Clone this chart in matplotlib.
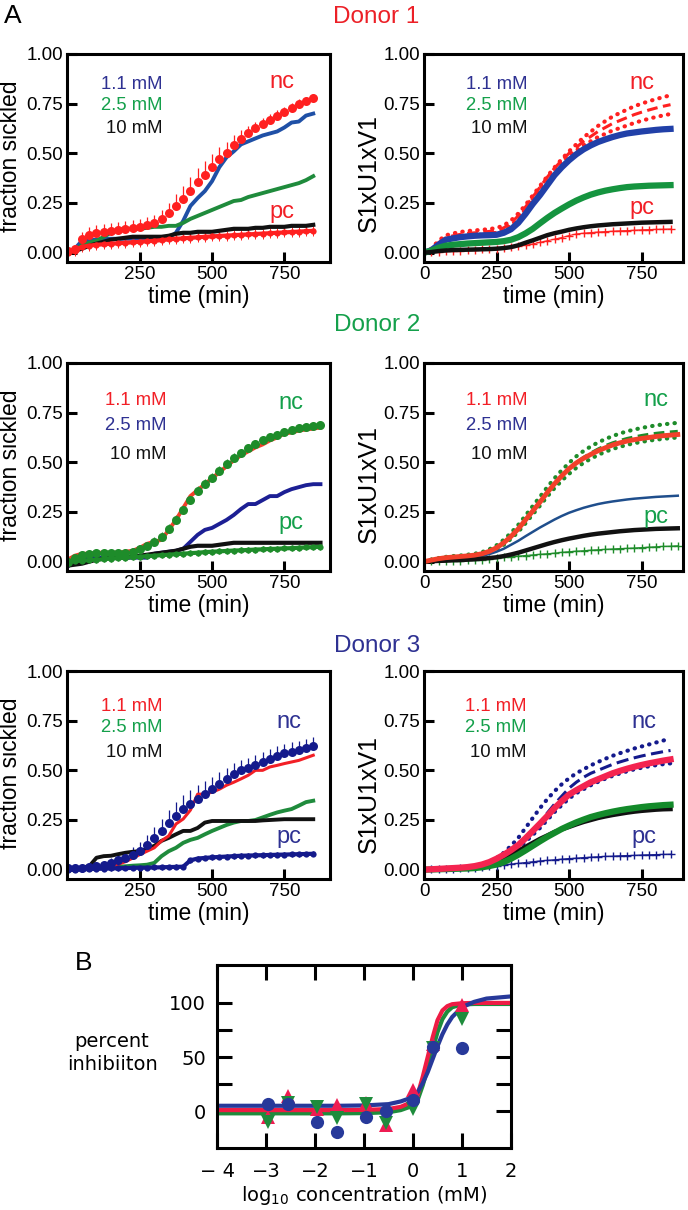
import numpy as np
import matplotlib.pyplot as plt

plt.rcParams['font.family'] = ['Liberation Sans', 'DejaVu Sans']

# ---- colours ----
RED = '#f21f26'
RED2 = '#f2402a'
RED3 = '#f42450'
GREEN = '#14a04b'
GREEN_D = '#1f8b3c'
BLUE = '#1f50a6'
BLUE_T = '#2e3192'
NAVY = '#141a8c'
STEEL = '#1f4e8c'
BLACK = '#111111'

conc_labels = ['1.1 mM', '2.5 mM', '10 mM']

# ---- Donor 1, measured (time step 25 min) ----
d1_time = np.arange(0, 851, 25)
d1_nc = [0.01, 0.02, 0.07, 0.09, 0.10, 0.105, 0.11, 0.115, 0.12, 0.125, 0.13, 0.14, 0.15, 0.17, 0.20, 0.235,
         0.27, 0.31, 0.355, 0.39, 0.43, 0.47, 0.50, 0.54, 0.57, 0.60, 0.625, 0.65, 0.67, 0.69, 0.71, 0.73,
         0.75, 0.765, 0.78]
d1_nc_err = [0.01, 0.02, 0.035, 0.04, 0.04, 0.04, 0.04, 0.04, 0.04, 0.04, 0.04, 0.04, 0.04, 0.045, 0.05, 0.06,
             0.065, 0.07, 0.07, 0.07, 0.065, 0.06, 0.055, 0.05, 0.045, 0.04, 0.035, 0.03, 0.03, 0.03, 0.025,
             0.025, 0.025, 0.02, 0.02]
d1_pc = [0.0, 0.01, 0.03, 0.035, 0.04, 0.042, 0.045, 0.047, 0.05, 0.052, 0.055, 0.057, 0.06, 0.063, 0.067, 0.07,
         0.072, 0.075, 0.077, 0.08, 0.082, 0.084, 0.086, 0.088, 0.09, 0.092, 0.094, 0.096, 0.098, 0.10, 0.102,
         0.104, 0.106, 0.108, 0.11]
d1_pc_err = 0.025
d1_c11 = [0.0, 0.02, 0.06, 0.065, 0.065, 0.07, 0.07, 0.07, 0.07, 0.07, 0.07, 0.07, 0.07, 0.07, 0.075, 0.10,
          0.16, 0.235, 0.275, 0.31, 0.36, 0.43, 0.48, 0.51, 0.545, 0.56, 0.575, 0.59, 0.60, 0.61, 0.63, 0.655,
          0.66, 0.69, 0.70]
d1_c25 = [0.0, 0.01, 0.04, 0.05, 0.06, 0.08, 0.10, 0.115, 0.12, 0.12, 0.12, 0.125, 0.13, 0.13, 0.135, 0.135,
          0.15, 0.17, 0.185, 0.20, 0.215, 0.23, 0.245, 0.26, 0.265, 0.28, 0.29, 0.30, 0.31, 0.32, 0.33, 0.34,
          0.35, 0.365, 0.385]
d1_c10 = [0.0, 0.01, 0.02, 0.035, 0.045, 0.055, 0.065, 0.07, 0.075, 0.08, 0.08, 0.08, 0.08, 0.08, 0.085, 0.095,
          0.10, 0.10, 0.105, 0.105, 0.105, 0.11, 0.115, 0.12, 0.12, 0.12, 0.125, 0.125, 0.13, 0.13, 0.13, 0.135,
          0.135, 0.135, 0.14]

# ---- Donor 1, model ----
d1_fit_hi = [0.0, 0.02, 0.06, 0.087, 0.097, 0.104, 0.109, 0.112, 0.115, 0.119, 0.124, 0.137, 0.162, 0.197, 0.24,
             0.288, 0.336, 0.384, 0.429, 0.471, 0.51, 0.545, 0.58, 0.609, 0.638, 0.662, 0.685, 0.703, 0.72,
             0.737, 0.75, 0.762, 0.773, 0.783, 0.792]
d1_fit_mid = [0.0, 0.015, 0.05, 0.075, 0.085, 0.092, 0.097, 0.10, 0.103, 0.107, 0.112, 0.125, 0.15, 0.185, 0.23,
              0.28, 0.33, 0.38, 0.425, 0.465, 0.50, 0.53, 0.56, 0.585, 0.61, 0.63, 0.65, 0.665, 0.68, 0.695,
              0.707, 0.718, 0.728, 0.737, 0.745]
d1_fit_lo = [0.0, 0.01, 0.04, 0.063, 0.073, 0.08, 0.085, 0.088, 0.091, 0.095, 0.10, 0.113, 0.138, 0.173, 0.22,
             0.272, 0.324, 0.376, 0.421, 0.459, 0.49, 0.515, 0.54, 0.561, 0.582, 0.598, 0.615, 0.627, 0.64,
             0.653, 0.664, 0.674, 0.683, 0.691, 0.698]
d1_fit_c11 = [0.0, 0.012, 0.04, 0.065, 0.072, 0.078, 0.082, 0.085, 0.087, 0.088, 0.09, 0.10, 0.118, 0.15, 0.195,
              0.245, 0.29, 0.34, 0.39, 0.43, 0.465, 0.495, 0.52, 0.54, 0.557, 0.57, 0.582, 0.592, 0.60, 0.605,
              0.61, 0.614, 0.618, 0.621, 0.623]
d1_fit_c25 = [0.0, 0.01, 0.025, 0.035, 0.04, 0.043, 0.046, 0.048, 0.05, 0.052, 0.054, 0.058, 0.065, 0.078, 0.097,
              0.12, 0.148, 0.175, 0.20, 0.222, 0.243, 0.262, 0.278, 0.292, 0.303, 0.312, 0.319, 0.325, 0.33,
              0.333, 0.335, 0.337, 0.338, 0.339, 0.34]
d1_fit_c10 = [0.0, 0.003, 0.008, 0.011, 0.013, 0.014, 0.015, 0.016, 0.017, 0.018, 0.02, 0.023, 0.028, 0.037,
              0.05, 0.062, 0.075, 0.088, 0.098, 0.106, 0.115, 0.122, 0.128, 0.133, 0.137, 0.14, 0.143, 0.145,
              0.147, 0.149, 0.151, 0.152, 0.153, 0.154, 0.155]
d1_fit_pc = [0.0, 0.002, 0.004, 0.006, 0.008, 0.01, 0.012, 0.014, 0.016, 0.018, 0.02, 0.023, 0.027, 0.032,
             0.037, 0.044, 0.052, 0.06, 0.068, 0.076, 0.086, 0.094, 0.098, 0.101, 0.104, 0.106, 0.108, 0.11,
             0.111, 0.113, 0.115, 0.116, 0.117, 0.118, 0.119]

# ---- Donor 2, measured ----
d2_time = np.arange(0, 876, 25)
d2_nc = [0.0, 0.02, 0.035, 0.04, 0.042, 0.044, 0.045, 0.045, 0.045, 0.05, 0.065, 0.08, 0.10, 0.125, 0.165, 0.21,
         0.26, 0.31, 0.355, 0.39, 0.42, 0.455, 0.49, 0.52, 0.545, 0.57, 0.59, 0.61, 0.625, 0.64, 0.655, 0.665,
         0.675, 0.68, 0.685, 0.69]
d2_nc_err = [0.01, 0.01, 0.015, 0.015, 0.015, 0.015, 0.015, 0.015, 0.015, 0.02, 0.02, 0.02, 0.025, 0.025, 0.025,
             0.025, 0.025, 0.025, 0.025, 0.025, 0.025, 0.025, 0.025, 0.025, 0.02, 0.02, 0.02, 0.02, 0.02, 0.02,
             0.02, 0.02, 0.015, 0.015, 0.015, 0.015]
d2_pc = [0.0, 0.003, 0.005, 0.008, 0.01, 0.013, 0.015, 0.018, 0.02, 0.023, 0.025, 0.028, 0.03, 0.033, 0.035,
         0.038, 0.04, 0.043, 0.045, 0.048, 0.05, 0.052, 0.054, 0.056, 0.057, 0.059, 0.061, 0.062, 0.064, 0.065,
         0.067, 0.068, 0.07, 0.072, 0.073, 0.075]
d2_pc_err = 0.015
d2_c11 = [0.01, 0.03, 0.04, 0.04, 0.045, 0.045, 0.045, 0.045, 0.05, 0.055, 0.07, 0.09, 0.10, 0.11, 0.16, 0.21,
          0.27, 0.33, 0.36, 0.39, 0.42, 0.45, 0.48, 0.51, 0.535, 0.555, 0.575, 0.59, 0.61, 0.625, 0.645, 0.65,
          0.66, 0.665, 0.67, 0.675]
d2_c25 = [-0.025, 0.0, 0.015, 0.018, 0.02, 0.02, 0.02, 0.02, 0.02, 0.02, 0.02, 0.02, 0.04, 0.045, 0.05, 0.055,
          0.065, 0.10, 0.135, 0.16, 0.17, 0.19, 0.21, 0.235, 0.265, 0.29, 0.29, 0.31, 0.33, 0.33, 0.35, 0.365,
          0.375, 0.385, 0.39, 0.39]
d2_c10 = [-0.02, -0.015, -0.01, 0.0, 0.01, 0.015, 0.02, 0.02, 0.02, 0.025, 0.03, 0.035, 0.04, 0.045, 0.05, 0.055,
          0.065, 0.075, 0.08, 0.08, 0.08, 0.085, 0.09, 0.095, 0.095, 0.095, 0.095, 0.095, 0.095, 0.095, 0.095,
          0.095, 0.095, 0.095, 0.095, 0.095]

# ---- Donor 2, model ----
d2_fit_hi = [0.0, 0.01, 0.018, 0.024, 0.028, 0.031, 0.035, 0.04, 0.048, 0.062, 0.082, 0.11, 0.145, 0.185, 0.232,
             0.28, 0.327, 0.375, 0.42, 0.46, 0.497, 0.53, 0.557, 0.58, 0.6, 0.617, 0.632, 0.645, 0.656, 0.665,
             0.673, 0.68, 0.686, 0.691, 0.695, 0.699]
d2_fit_mid = [0.0, 0.008, 0.015, 0.02, 0.023, 0.026, 0.029, 0.033, 0.04, 0.052, 0.07, 0.095, 0.127, 0.165, 0.21,
              0.255, 0.30, 0.348, 0.392, 0.432, 0.468, 0.50, 0.525, 0.547, 0.567, 0.584, 0.598, 0.61, 0.62,
              0.628, 0.635, 0.641, 0.646, 0.65, 0.653, 0.656]
d2_fit_lo = [0.0, 0.006, 0.012, 0.016, 0.019, 0.022, 0.025, 0.028, 0.034, 0.045, 0.062, 0.085, 0.115, 0.15, 0.193,
             0.238, 0.282, 0.328, 0.37, 0.408, 0.442, 0.472, 0.497, 0.518, 0.537, 0.553, 0.567, 0.578, 0.588,
             0.596, 0.603, 0.609, 0.614, 0.618, 0.622, 0.625]
d2_fit_c11 = [0.0, 0.008, 0.015, 0.02, 0.023, 0.026, 0.029, 0.033, 0.04, 0.052, 0.07, 0.095, 0.127, 0.165, 0.21,
              0.255, 0.30, 0.348, 0.392, 0.432, 0.468, 0.497, 0.52, 0.54, 0.558, 0.573, 0.587, 0.598, 0.607,
              0.614, 0.62, 0.625, 0.63, 0.634, 0.637, 0.64]
d2_fit_c25 = [0.0, 0.005, 0.01, 0.012, 0.015, 0.017, 0.02, 0.025, 0.03, 0.038, 0.05, 0.065, 0.085, 0.105, 0.128,
              0.15, 0.172, 0.192, 0.212, 0.23, 0.246, 0.259, 0.271, 0.281, 0.29, 0.297, 0.303, 0.308, 0.313,
              0.317, 0.32, 0.323, 0.326, 0.328, 0.33, 0.332]
d2_fit_c10 = [0.0, 0.002, 0.004, 0.005, 0.007, 0.008, 0.01, 0.012, 0.015, 0.018, 0.022, 0.028, 0.036, 0.045,
              0.056, 0.067, 0.078, 0.089, 0.099, 0.108, 0.116, 0.123, 0.13, 0.136, 0.141, 0.145, 0.149, 0.153,
              0.156, 0.159, 0.161, 0.163, 0.165, 0.166, 0.167, 0.168]
d2_fit_pc = [0.0, 0.001, 0.002, 0.003, 0.004, 0.005, 0.006, 0.008, 0.01, 0.014, 0.018, 0.021, 0.025, 0.028,
             0.031, 0.034, 0.037, 0.04, 0.043, 0.047, 0.05, 0.053, 0.055, 0.058, 0.06, 0.062, 0.064, 0.066,
             0.067, 0.069, 0.071, 0.073, 0.075, 0.077, 0.078, 0.08]

# ---- Donor 3, measured ----
d3_time = np.arange(0, 851, 25)
d3_nc = [0.01, 0.01, 0.01, 0.013, 0.017, 0.025, 0.035, 0.047, 0.06, 0.075, 0.093, 0.125, 0.16, 0.197, 0.235,
         0.27, 0.305, 0.33, 0.356, 0.38, 0.405, 0.43, 0.457, 0.48, 0.50, 0.512, 0.525, 0.54, 0.555, 0.57, 0.585,
         0.593, 0.60, 0.61, 0.62]
d3_nc_err = [0.01, 0.01, 0.01, 0.01, 0.015, 0.02, 0.025, 0.03, 0.035, 0.04, 0.045, 0.05, 0.055, 0.06, 0.065,
             0.07, 0.07, 0.07, 0.07, 0.065, 0.06, 0.06, 0.055, 0.055, 0.05, 0.05, 0.05, 0.05, 0.05, 0.05, 0.05,
             0.05, 0.05, 0.05, 0.05]
d3_pc = [0.0, 0.0, 0.002, 0.003, 0.004, 0.005, 0.006, 0.007, 0.008, 0.009, 0.01, 0.01, 0.011, 0.012, 0.013,
         0.014, 0.015, 0.047, 0.056, 0.059, 0.062, 0.064, 0.066, 0.068, 0.07, 0.071, 0.072, 0.073, 0.074, 0.075,
         0.076, 0.077, 0.078, 0.079, 0.08]
d3_pc_err = 0.012
d3_c11 = [0.0, 0.003, 0.005, 0.008, 0.01, 0.013, 0.017, 0.027, 0.04, 0.058, 0.076, 0.093, 0.11, 0.145, 0.17,
          0.23, 0.255, 0.30, 0.38, 0.38, 0.39, 0.405, 0.425, 0.44, 0.457, 0.475, 0.50, 0.50, 0.517, 0.525,
          0.534, 0.542, 0.55, 0.563, 0.576]
d3_c25 = [0.0, 0.002, 0.004, 0.006, 0.008, 0.01, 0.012, 0.015, 0.017, 0.02, 0.022, 0.025, 0.034, 0.068, 0.093,
          0.11, 0.135, 0.15, 0.16, 0.178, 0.195, 0.21, 0.225, 0.237, 0.245, 0.245, 0.25, 0.263, 0.276, 0.288,
          0.297, 0.305, 0.322, 0.34, 0.347]
d3_c10 = [0.0, 0.005, 0.01, 0.017, 0.06, 0.068, 0.07, 0.078, 0.085, 0.09, 0.093, 0.105, 0.12, 0.145, 0.16,
          0.178, 0.195, 0.195, 0.21, 0.237, 0.245, 0.245, 0.245, 0.245, 0.245, 0.245, 0.245, 0.248, 0.25,
          0.252, 0.254, 0.254, 0.254, 0.254, 0.254]

# ---- Donor 3, model ----
d3_fit_hi = [0.0, 0.002, 0.004, 0.006, 0.008, 0.01, 0.013, 0.018, 0.025, 0.04, 0.058, 0.085, 0.12, 0.16, 0.21,
             0.26, 0.31, 0.355, 0.395, 0.43, 0.46, 0.485, 0.505, 0.525, 0.542, 0.558, 0.573, 0.586, 0.598,
             0.61, 0.62, 0.63, 0.64, 0.65, 0.66]
d3_fit_mid = [0.0, 0.002, 0.004, 0.006, 0.008, 0.01, 0.013, 0.018, 0.026, 0.038, 0.055, 0.075, 0.098, 0.124,
              0.158, 0.195, 0.235, 0.285, 0.33, 0.37, 0.41, 0.44, 0.465, 0.485, 0.50, 0.515, 0.53, 0.542, 0.553,
              0.563, 0.572, 0.58, 0.587, 0.594, 0.60]
d3_fit_lo = [0.0, 0.002, 0.004, 0.006, 0.008, 0.01, 0.012, 0.016, 0.022, 0.032, 0.046, 0.064, 0.085, 0.11, 0.14,
             0.175, 0.21, 0.25, 0.29, 0.325, 0.358, 0.385, 0.405, 0.425, 0.442, 0.458, 0.472, 0.484, 0.495,
             0.505, 0.513, 0.52, 0.526, 0.531, 0.535]
d3_fit_c11 = [0.0, 0.002, 0.004, 0.006, 0.008, 0.01, 0.013, 0.018, 0.026, 0.038, 0.055, 0.075, 0.098, 0.124,
              0.158, 0.195, 0.232, 0.27, 0.31, 0.345, 0.378, 0.40, 0.42, 0.44, 0.455, 0.47, 0.485, 0.497, 0.508,
              0.518, 0.527, 0.535, 0.542, 0.549, 0.555]
d3_fit_c25 = [0.0, 0.001, 0.002, 0.003, 0.004, 0.005, 0.006, 0.008, 0.012, 0.018, 0.026, 0.038, 0.055, 0.075,
              0.097, 0.12, 0.143, 0.165, 0.185, 0.205, 0.222, 0.238, 0.252, 0.265, 0.275, 0.284, 0.292, 0.299,
              0.305, 0.31, 0.315, 0.319, 0.322, 0.325, 0.327]
d3_fit_c10 = [0.0, 0.001, 0.002, 0.003, 0.005, 0.007, 0.01, 0.015, 0.02, 0.03, 0.045, 0.06, 0.078, 0.095, 0.115,
              0.135, 0.155, 0.172, 0.19, 0.203, 0.215, 0.228, 0.24, 0.25, 0.26, 0.268, 0.275, 0.281, 0.287,
              0.292, 0.296, 0.299, 0.302, 0.304, 0.305]
d3_fit_pc = [0.0, 0.001, 0.002, 0.003, 0.004, 0.006, 0.008, 0.01, 0.013, 0.016, 0.02, 0.024, 0.028, 0.032,
             0.036, 0.04, 0.044, 0.047, 0.05, 0.053, 0.056, 0.058, 0.061, 0.063, 0.065, 0.067, 0.068, 0.07,
             0.071, 0.072, 0.074, 0.075, 0.076, 0.077, 0.078]

# ---- panel B ----
b_x = [-2.95, -2.55, -1.95, -1.55, -0.95, -0.55, 0.0, 0.4, 1.0]
b_red = [-5, 14, 2, 6, 8, -13, 20, 62, 98]
b_green = [-10, 8, 4, -6, 7, -11, 2, 58, 85]
b_blue = [7, 7, -10, -19, -5, 0, 10, 59, 58]
b_fit_x = [-4, -1.5, -1, -0.5, -0.25, 0, 0.1, 0.2, 0.3, 0.4, 0.5, 0.6, 0.7, 0.8, 1.0, 1.25, 1.5, 2]
b_fit_red = [1, 1, 1.2, 2, 4, 9, 16, 32, 50, 68, 84, 93, 97, 98.8, 99.7, 100, 100, 100]
b_fit_green = [-2, -2, -1.8, -1, 1, 5, 11, 24, 40, 57, 73, 85, 92, 96, 98.5, 99, 99, 99]
b_fit_blue = [5, 5, 5.3, 6.5, 9, 13, 18, 26, 36, 48, 60, 71, 80, 87, 96, 101, 104, 106]
b_xticklabels = ['\u2212 4', '\u22123', '\u22122', '\u22121', '0', '1', '2']

W, H = 688, 1210
fig = plt.figure(figsize=(W / 100, H / 100), dpi=100)


def px_axes(x0, y0, x1, y1):
    return fig.add_axes([x0 / W, 1 - y1 / H, (x1 - x0) / W, (y1 - y0) / H])


def style_a(ax, xlim, xticks, ylabel, ylab_y):
    ax.set_xlim(*xlim)
    ax.set_ylim(-0.047, 1.0)
    ax.set_xticks(xticks)
    ax.set_yticks([0, 0.25, 0.5, 0.75, 1.0])
    ax.set_yticklabels(['0.00', '0.25', '0.50', '0.75', '1.00'])
    ax.tick_params(direction='in', length=7, width=2.2, labelsize=13.5, pad=3)
    for s in ax.spines.values():
        s.set_linewidth(2.2)
    ax.set_xlabel('time (min)', fontsize=16.5, va='center')
    ax.xaxis.set_label_coords(0.5, -0.168)
    ax.set_ylabel(ylabel, fontsize=16.5 if ylabel.startswith('f') else 18, va='center')
    ax.yaxis.set_label_coords(-0.215, ylab_y)


def labels_a(ax, x_conc, ys, colors, x_ncpc, y_nc, y_pc, nc_color):
    for lab, y, c in zip(conc_labels, ys, colors):
        ax.text(x_conc, y, lab, color=c, fontsize=13.3, ha='right', va='center', transform=ax.transAxes)
    ax.text(x_ncpc, y_nc, 'nc', color=nc_color, fontsize=17, ha='center', va='center', transform=ax.transAxes)
    ax.text(x_ncpc, y_pc, 'pc', color=nc_color, fontsize=17, ha='center', va='center', transform=ax.transAxes)


def data_panel(ax, t, nc, nc_err, pc, pc_err, lines, nc_color):
    ax.errorbar(t, nc, yerr=[np.zeros(len(nc)), nc_err], fmt='o', color=nc_color, ms=6.5, mew=0,
                elinewidth=0.9, capsize=3, capthick=0.9)
    ax.errorbar(t, pc, yerr=pc_err, fmt='-o', color=nc_color, ms=4.5, mew=0, lw=3,
                elinewidth=0.7, capsize=2.5, capthick=0.7)
    for y, c, lw in lines:
        ax.plot(t, y, color=c, lw=lw)


def fit_panel(ax, t, hi, mid, lo, pc, lines, nc_color, dash):
    ax.plot(t, pc, color=nc_color, lw=0.8, marker='+', ms=6, mew=1.0)
    for y in (hi, lo):
        ax.plot(t, y, color=nc_color, lw=3, ls=(0, (0.1, 1.7)), dash_capstyle='round')
    ax.plot(t, mid, color=nc_color, lw=2.2, ls=(0, dash))
    for y, c, lw in lines:
        ax.plot(t, y, color=c, lw=lw)


xl_left = (-2, 908)
xl_right = (0, 893)

# ---- Donor 1 ----
ax = px_axes(67, 54, 330, 262)
data_panel(ax, d1_time, d1_nc, d1_nc_err, d1_pc, d1_pc_err,
           [(d1_c11, BLUE, 2.8), (d1_c25, GREEN_D, 2.8), (d1_c10, BLACK, 3)], '#ff2020')
style_a(ax, xl_left, [250, 500, 750], 'fraction sickled', 0.51)
labels_a(ax, 0.365, [0.851, 0.75, 0.644], [BLUE_T, GREEN, BLACK], 0.817, 0.865, 0.24, RED)

ax = px_axes(424, 54, 683, 262)
fit_panel(ax, d1_time, d1_fit_hi, d1_fit_mid, d1_fit_lo, d1_fit_pc,
          [(d1_fit_c11, '#2140a8', 4.5), (d1_fit_c25, '#15943f', 4.5), (d1_fit_c10, BLACK, 3.2)],
          '#ff2020', (3.5, 1.8))
style_a(ax, xl_right, [0, 250, 500, 750], 'S1xU1xV1', 0.43)
labels_a(ax, 0.398, [0.851, 0.75, 0.644], [BLUE_T, GREEN, BLACK], 0.84, 0.86, 0.26, RED)

# ---- Donor 2 ----
ax = px_axes(67, 363, 330, 571)
data_panel(ax, d2_time, d2_nc, d2_nc_err, d2_pc, d2_pc_err,
           [(d2_c11, RED2, 2.8), (d2_c25, '#1c1f94', 2.8), (d2_c10, BLACK, 3)], '#1e8c2a')
style_a(ax, xl_left, [250, 500, 750], 'fraction sickled', 0.51)
labels_a(ax, 0.38, [0.822, 0.70, 0.56], [RED, BLUE_T, BLACK], 0.85, 0.81, 0.23, GREEN)

ax = px_axes(424, 363, 683, 571)
fit_panel(ax, d2_time, d2_fit_hi, d2_fit_mid, d2_fit_lo, d2_fit_pc,
          [(d2_fit_c25, STEEL, 1.8), (d2_fit_c10, BLACK, 3.2), (d2_fit_c11, RED2, 3.5)],
          '#1e8c2a', (3.5, 1.8))
style_a(ax, xl_right, [0, 250, 500, 750], 'S1xU1xV1', 0.42)
labels_a(ax, 0.398, [0.822, 0.70, 0.56], [RED, BLUE_T, BLACK], 0.897, 0.82, 0.26, GREEN)

# ---- Donor 3 ----
ax = px_axes(67, 671, 330, 879)
data_panel(ax, d3_time, d3_nc, d3_nc_err, d3_pc, d3_pc_err,
           [(d3_c25, GREEN_D, 2.8), (d3_c10, BLACK, 2.8), (d3_c11, RED, 2.2)], NAVY)
style_a(ax, xl_left, [250, 500, 750], 'fraction sickled', 0.51)
labels_a(ax, 0.365, [0.827, 0.726, 0.606], [RED, GREEN, BLACK], 0.845, 0.755, 0.20, BLUE_T)

ax = px_axes(424, 671, 683, 879)
fit_panel(ax, d3_time, d3_fit_hi, d3_fit_mid, d3_fit_lo, d3_fit_pc,
          [(d3_fit_c10, BLACK, 3.2), (d3_fit_c25, '#138a2a', 4.5), (d3_fit_c11, RED3, 4.5)],
          NAVY, (4.0, 1.8))
style_a(ax, xl_right, [0, 250, 500, 750], 'S1xU1xV1', 0.41)
labels_a(ax, 0.394, [0.827, 0.726, 0.606], [RED, GREEN, BLACK], 0.85, 0.755, 0.20, BLUE_T)

# ---- titles ----
fig.text(13 / W, 1 - 16 / H, 'A', fontsize=19, ha='center', va='center')
fig.text(376 / W, 1 - 17 / H, 'Donor 1', fontsize=17.5, color='#ec2027', ha='center', va='center')
fig.text(377 / W, 1 - 325 / H, 'Donor 2', fontsize=17.5, color=GREEN, ha='center', va='center')
fig.text(377 / W, 1 - 646 / H, 'Donor 3', fontsize=17.5, color=BLUE_T, ha='center', va='center')
fig.text(84 / W, 1 - 963 / H, 'B', fontsize=19, ha='center', va='center')

# ---- panel B ----
axb = px_axes(217, 965, 511, 1148)
axb.plot(b_fit_x, b_fit_green, color='#1e8c3c', lw=3)
axb.plot(b_fit_x, b_fit_red, color='#ee1c44', lw=3)
axb.plot(b_fit_x, b_fit_blue, color='#27399a', lw=3)
axb.plot(b_x, b_red, '^', color='#ee1c52', ms=9.5, mew=0)
axb.plot(b_x, b_green, 'v', color='#1e8c3c', ms=9.5, mew=0)
axb.plot(b_x, b_blue, 'o', color='#27399a', ms=9.5, mew=0)
axb.set_xlim(-4, 2)
axb.set_ylim(-34, 135)
axb.set_xticks([-4, -3, -2, -1, 0, 1, 2])
axb.set_xticklabels(b_xticklabels, family='DejaVu Sans', fontsize=14)
axb.set_yticks([0, 50, 100])
axb.set_yticks([25, 75], minor=True)
axb.set_yticklabels(['0', '50', '100'], family='DejaVu Sans', fontsize=14)
axb.tick_params(which='both', direction='in', length=11, width=2.2, top=True, right=True)
axb.tick_params(axis='x', pad=10)
axb.tick_params(axis='y', pad=8)
for s in axb.spines.values():
    s.set_linewidth(2.2)
axb.set_xlabel('log$_{10}$ concentration (mM)', family='DejaVu Sans', fontsize=14, va='center')
axb.xaxis.set_label_coords(0.5, -0.257)
axb.text(-0.357, 0.52, 'percent\ninhibiiton', transform=axb.transAxes, ha='center', va='center',
         family='DejaVu Sans', fontsize=14, linespacing=1.3)

fig.savefig('out.png', dpi=100)
